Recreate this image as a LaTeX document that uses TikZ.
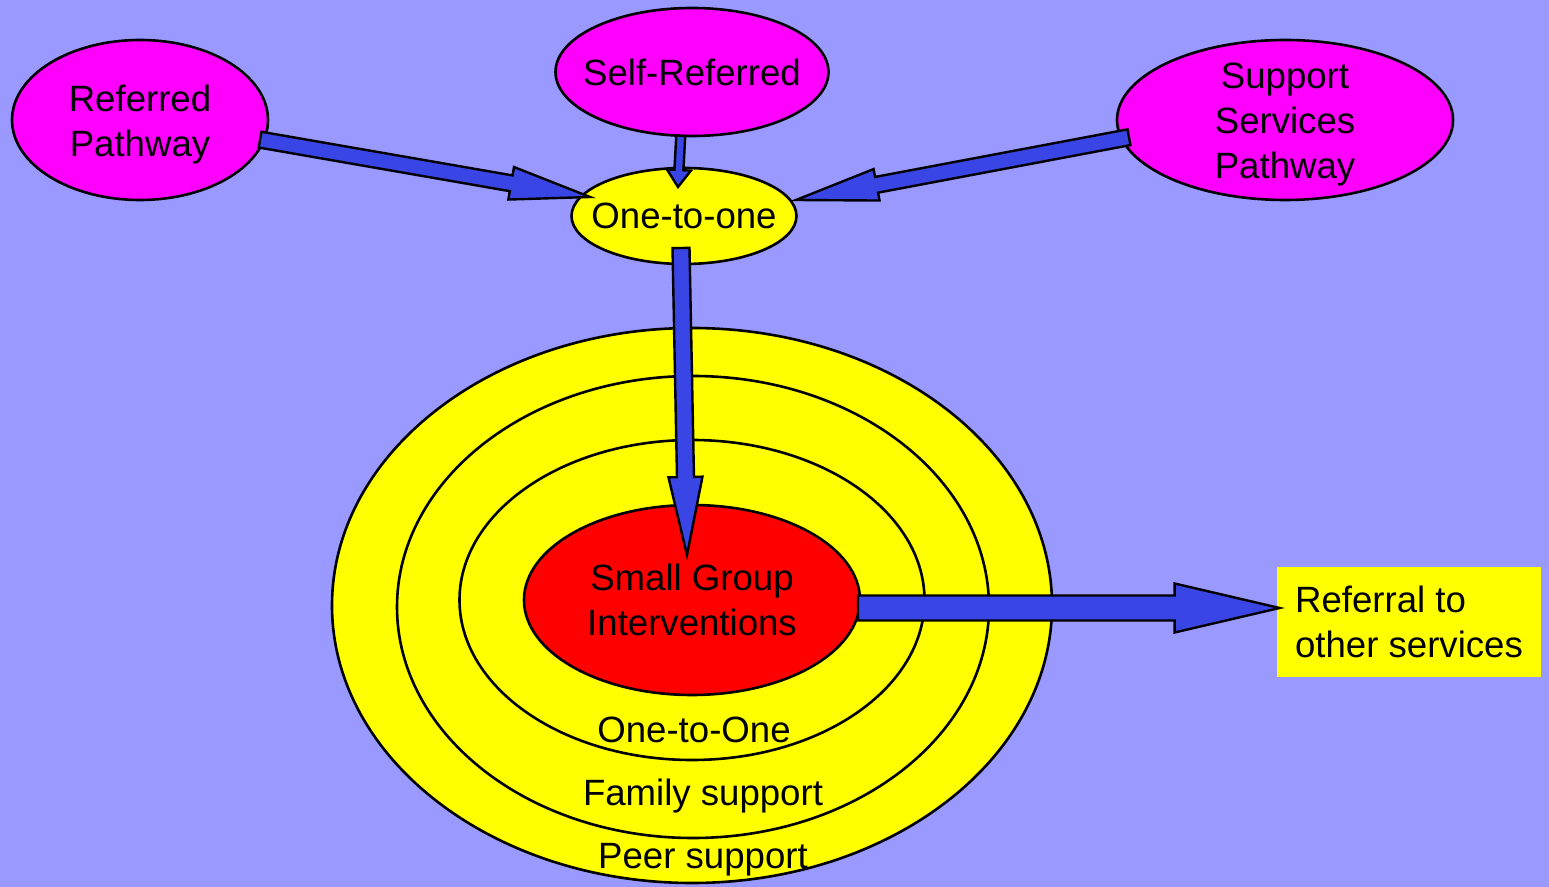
\documentclass[tikz,border=0pt]{standalone}
\usepackage{fontspec}
\setmainfont{Liberation Sans}
\usetikzlibrary{shapes.geometric,calc,positioning}
\definecolor{bgblue}{HTML}{9999FF}
\definecolor{pathmag}{HTML}{FF00FF}
\definecolor{ringyel}{HTML}{FFFF00}
\definecolor{corered}{HTML}{FF0000}
\definecolor{flowblue}{HTML}{3A45E6}
% block arrow: from, to, shaft half width, head half width, head length
\newcommand{\blockarrow}[5]{%
  \coordinate (ba-s) at (#1);
  \coordinate (ba-t) at (#2);
  \coordinate (ba-b) at ($(ba-t)!#5!(ba-s)$);
  \filldraw[flow]
    ($(ba-s)!#3!90:(ba-t)$) -- ($(ba-b)!#3!90:(ba-t)$) -- ($(ba-b)!#4!90:(ba-t)$)
    -- (ba-t) -- ($(ba-b)!#4!-90:(ba-t)$) -- ($(ba-b)!#3!-90:(ba-t)$)
    -- ($(ba-s)!#3!-90:(ba-t)$) -- cycle;}

\begin{document}
\begin{tikzpicture}[x=0.5pt,y=-0.5pt,
    every node/.style={font=\fontsize{18.3pt}{22.5pt}\selectfont,text=black},
    blob/.style={ellipse,draw=black,line width=1.3pt,inner sep=0pt,outer sep=0pt},
    inside/.style={label={[align=center]center:#1}},
    insidelow/.style={label={[align=center,yshift=-2.4pt]center:#1}},
    pathway/.style={blob,fill=pathmag},
    ring/.style={blob,fill=ringyel},
    flow/.style={fill=flowblue,draw=black,line width=1.2pt,line join=miter}]
  \fill[bgblue] (0,0) rectangle (1549,887);
  % target rings
  \node[ring,minimum width=360pt,minimum height=277.5pt] (peer) at (692,605.5) {};
  \node[ring,minimum width=296pt,minimum height=231pt] (family) at (693,607) {};
  \node[ring,minimum width=232.5pt,minimum height=160pt] (onering) at (692,600) {};
  \node[blob,fill=corered,minimum width=168pt,minimum height=95pt,
        inside={Small Group\\Interventions}] (small) at (692,600) {};
  \node (lblone) at (694,730) {One-to-One};
  \node (lblfamily) at (703,796) {Family support};
  \node (lblpeer) at (703,860) {Peer support};
  % pathways
  \node[pathway,minimum width=128pt,minimum height=80pt,
        insidelow={Referred\\Pathway}] (refp) at (140,120) {};
  \node[pathway,minimum width=136.5pt,minimum height=64pt,
        inside={Self-Referred}] (self) at (692,72) {};
  \node[pathway,minimum width=168pt,minimum height=80pt,
        insidelow={Support\\Services\\Pathway}] (supp) at (1285,120) {};
  \node[ring,minimum width=112.5pt,minimum height=48pt,
        inside={One-to-one}] (one) at (684,216) {};
  \node[fill=ringyel,minimum width=132pt,minimum height=55pt,align=left,inner sep=0pt] (ref) at (1409,622) {Referral to\\other services};
  % arrows
  \blockarrow{[xshift=-2pt]refp.-9}{[shift={(-94,-19)}]one.center}{4pt}{8.25pt}{40pt}
  \blockarrow{self.-100}{[shift={(-6,19)}]one.north}{2.25pt}{6pt}{8.5pt}
  \blockarrow{[xshift=4pt]supp.186}{[shift={(112,-16)}]one.center}{4pt}{8pt}{41pt}
  \blockarrow{[shift={(-3,-16)}]one.south}{[shift={(-5,50)}]small.north}{4.25pt}{8.5pt}{39pt}
  \blockarrow{[shift={(-2,8)}]small.east}{[shift={(3,-14)}]ref.west}{6.25pt}{12.25pt}{52.5pt}
\end{tikzpicture}
\end{document}
